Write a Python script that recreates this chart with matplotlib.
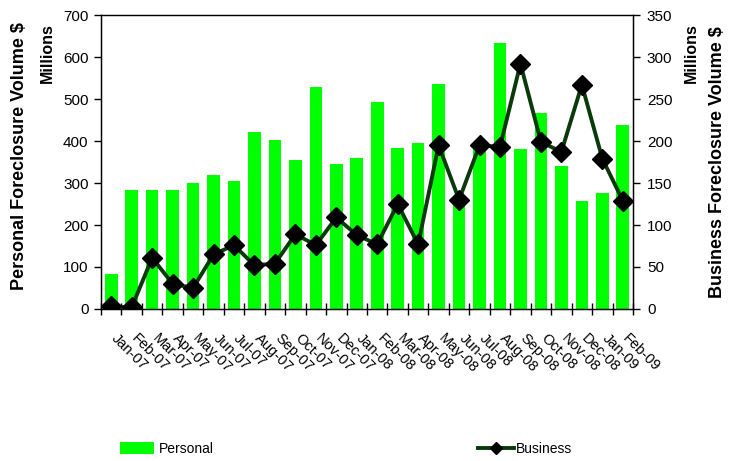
import matplotlib
matplotlib.use("Agg")
import matplotlib.pyplot as plt
import matplotlib.transforms as mtransforms
from matplotlib.lines import Line2D
from matplotlib.patches import Patch

months = ["Jan-07", "Feb-07", "Mar-07", "Apr-07", "May-07", "Jun-07", "Jul-07",
          "Aug-07", "Sep-07", "Oct-07", "Nov-07", "Dec-07", "Jan-08", "Feb-08",
          "Mar-08", "Apr-08", "May-08", "Jun-08", "Jul-08", "Aug-08", "Sep-08",
          "Oct-08", "Nov-08", "Dec-08", "Jan-09", "Feb-09"]
personal = [83, 283, 283, 283, 300, 319, 305, 421, 402, 355, 529, 345, 360,
            494, 384, 395, 536, 258, 390, 634, 381, 467, 341, 256, 277, 438]
business = [3, 2, 61, 30, 25, 65, 76, 52, 54, 89, 76, 109, 88,
            77, 125, 77, 195, 130, 195, 193, 292, 199, 187, 267, 179, 129]
left_ticks = [0, 100, 200, 300, 400, 500, 600, 700]
right_ticks = [0, 50, 100, 150, 200, 250, 300, 350]

plt.rcParams['font.family'] = ['Liberation Sans', 'DejaVu Sans']

fig = plt.figure(figsize=(7.3, 4.61), dpi=100)
ax = fig.add_axes([101/730, 1-309/461, (633-101)/730, (309-15)/461])
x = list(range(len(months)))
ax.bar(x, personal, width=0.62, color='#00FF00', zorder=2)
ax.set_xlim(-0.5, len(months)-0.5)
ax.set_ylim(0, 700)
ax.set_yticks(left_ticks)
ax.tick_params(axis='y', direction='out', length=5, width=1, labelsize=11, pad=4)

ax.set_xticks(x)
ax.set_xticklabels(months, rotation=-45, ha='left', va='top', rotation_mode='anchor', fontsize=10.5)
ax.tick_params(axis='x', which='major', length=0, pad=16)
offset = mtransforms.ScaledTranslation(0.07, 0, fig.dpi_scale_trans)
for lab in ax.get_xticklabels():
    lab.set_transform(lab.get_transform() + offset)
ax.set_xticks([i - 0.5 for i in range(len(months)+1)], minor=True)
ax.tick_params(axis='x', which='minor', direction='inout', length=8, width=1)

for s in ['left', 'right', 'top', 'bottom']:
    ax.spines[s].set_color('black')
    ax.spines[s].set_linewidth(1)
ax.spines['top'].set_color('#1a2a1a')

ax2 = ax.twinx()
ax2.plot(x, business, color='#0a3a0a', linewidth=2.8, marker='D', markersize=10,
         markerfacecolor='black', markeredgecolor='black', zorder=3)
ax2.set_ylim(0, 350)
ax2.set_yticks(right_ticks)
ax2.tick_params(axis='y', direction='out', length=5, width=1, labelsize=11, pad=5)
for s in ['left', 'right', 'top', 'bottom']:
    ax2.spines[s].set_color('black')

fig.text(20/730, 1-156/461, "Personal Foreclosure Volume $", rotation=90,
         ha='center', va='center', fontsize=13, fontweight='bold')
fig.text(47/730, 1-53/461, "Millions", rotation=90,
         ha='center', va='center', fontsize=11.5, fontweight='bold')
fig.text(718/730, 1-162/461, "Business Foreclosure Volume $", rotation=90,
         ha='center', va='center', fontsize=13, fontweight='bold')
fig.text(691/730, 1-53/461, "Millions", rotation=90,
         ha='center', va='center', fontsize=11.5, fontweight='bold')

h1 = Patch(facecolor='#00FF00', edgecolor='none')
fig.legend([h1], ["Personal"], loc='center left', bbox_to_anchor=(107/730, 1-449/461),
           frameon=False, fontsize=10, handlelength=2.5, handleheight=0.9, handletextpad=0.3)
h2 = Line2D([0], [0], color='#0a3a0a', linewidth=2.8, marker='D', markersize=6,
            markerfacecolor='black', markeredgecolor='black')
fig.legend([h2], ["Business"], loc='center left', bbox_to_anchor=(465/730, 1-449/461),
           frameon=False, fontsize=10, handlelength=2.6, handletextpad=0.15)

fig.savefig("out.png", dpi=100)
